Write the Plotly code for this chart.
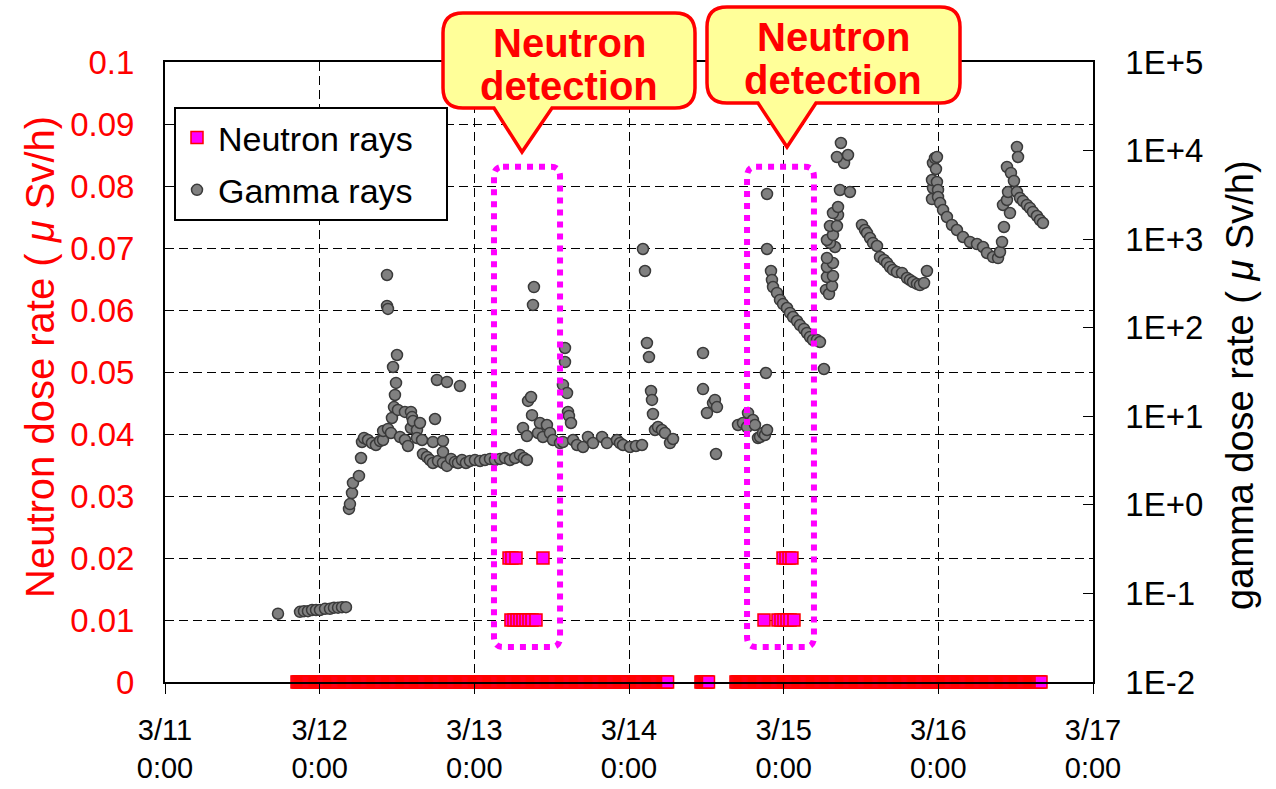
import pandas as pd
import plotly.graph_objects as go

# ---------------- data ----------------
x_tick_dates = ["2011-03-11", "2011-03-12", "2011-03-13", "2011-03-14",
                "2011-03-15", "2011-03-16", "2011-03-17"]
x_tick_text = ["3/11<br>0:00", "3/12<br>0:00", "3/13<br>0:00", "3/14<br>0:00",
               "3/15<br>0:00", "3/16<br>0:00", "3/17<br>0:00"]

gamma_tick_vals = [1e-2, 1e-1, 1e0, 1e1, 1e2, 1e3, 1e4, 1e5]
gamma_tick_text = ["1E-2", "1E-1", "1E+0", "1E+1", "1E+2", "1E+3", "1E+4", "1E+5"]

# neutron monitor: periods where 0 was recorded (sampling every 10 min)
neutron_zero_periods = [("2011-03-11 20:29", "2011-03-14 06:03"),
                        ("2011-03-14 11:10", "2011-03-14 12:20"),
                        ("2011-03-14 16:36", "2011-03-16 16:05")]
neutron_sample_interval = "10min"

# neutron detections (uSv/h)
neutron_detect_time = [
    "03-13 05:23", "03-13 05:50", "03-13 06:28", "03-13 10:39",
    "03-13 05:41", "03-13 06:09", "03-13 06:37", "03-13 07:05", "03-13 07:33",
    "03-13 08:01", "03-13 08:29", "03-13 08:57", "03-13 09:34",
    "03-14 23:54", "03-15 00:22", "03-15 00:50", "03-15 01:17",
    "03-14 20:57", "03-14 23:07", "03-14 23:35", "03-15 00:03", "03-15 00:31",
    "03-15 00:59", "03-15 01:36"]
neutron_detect_dose = [
    0.02, 0.02, 0.02, 0.02,
    0.01, 0.01, 0.01, 0.01, 0.01,
    0.01, 0.01, 0.01, 0.01,
    0.02, 0.02, 0.02, 0.02,
    0.01, 0.01, 0.01, 0.01, 0.01,
    0.01, 0.01]

# gamma dose rate (uSv/h)
gamma_time = [
    # 3/11 evening - 3/12 early
    "03-11 17:32", "03-11 20:57", "03-11 21:34", "03-11 22:11", "03-11 22:49",
    "03-11 23:26", "03-12 00:03", "03-12 00:50", "03-12 01:36", "03-12 02:13",
    "03-12 02:51", "03-12 03:28", "03-12 04:05",
    # 3/12
    "03-12 04:33", "03-12 04:42", "03-12 05:01", "03-12 05:10", "03-12 06:06",
    "03-12 06:25", "03-12 06:34", "03-12 06:53", "03-12 07:30", "03-12 08:07",
    "03-12 08:44", "03-12 09:22", "03-12 09:50", "03-12 09:51", "03-12 10:27",
    "03-12 10:27", "03-12 10:36", "03-12 10:36", "03-12 11:04", "03-12 11:13",
    "03-12 11:23", "03-12 11:32", "03-12 11:41", "03-12 11:51", "03-12 12:00",
    "03-12 12:09", "03-12 12:28", "03-12 13:14", "03-12 13:14", "03-12 13:42",
    "03-12 14:10", "03-12 14:10", "03-12 14:20", "03-12 14:29", "03-12 15:06",
    "03-12 15:06", "03-12 15:34", "03-12 15:53", "03-12 16:02", "03-12 16:39",
    "03-12 17:07", "03-12 17:35", "03-12 17:35", "03-12 17:54", "03-12 18:12",
    "03-12 18:22", "03-12 19:08", "03-12 19:08", "03-12 19:08", "03-12 19:45",
    "03-12 19:45", "03-12 20:23", "03-12 21:00", "03-12 21:28", "03-12 21:46",
    "03-12 22:05", "03-12 22:42", "03-12 23:19",
    # 3/13
    "03-13 00:06", "03-13 00:53", "03-13 01:39", "03-13 02:26", "03-13 03:12",
    "03-13 03:59", "03-13 04:45", "03-13 05:32", "03-13 06:19", "03-13 07:05",
    "03-13 07:42", "03-13 08:10", "03-13 07:33", "03-13 08:10", "03-13 08:20",
    "03-13 08:48", "03-13 08:57", "03-13 09:06", "03-13 09:15", "03-13 09:53",
    "03-13 10:11", "03-13 10:39", "03-13 11:16", "03-13 11:44", "03-13 12:12",
    "03-13 13:18", "03-13 13:45", "03-13 13:45", "03-13 14:04", "03-13 14:04",
    "03-13 14:23", "03-13 14:32", "03-13 14:41", "03-13 15:00", "03-13 15:19",
    "03-13 15:56", "03-13 16:52", "03-13 17:38", "03-13 18:25", "03-13 19:49",
    "03-13 20:35", "03-13 22:08", "03-13 22:36", "03-13 23:04",
    # 3/14
    "03-14 00:09", "03-14 01:05", "03-14 02:01", "03-14 02:10", "03-14 02:29",
    "03-14 02:47", "03-14 03:06", "03-14 03:25", "03-14 03:34", "03-14 03:43",
    "03-14 04:02", "03-14 04:30", "03-14 05:07", "03-14 05:35", "03-14 06:22",
    "03-14 06:50",
    "03-14 11:29", "03-14 11:29", "03-14 12:06", "03-14 13:02", "03-14 13:20",
    "03-14 13:39", "03-14 13:30",
    "03-14 16:55", "03-14 17:41", "03-14 18:19", "03-14 18:28", "03-14 19:14",
    "03-14 19:33", "03-14 20:01", "03-14 20:20", "03-14 20:47", "03-14 21:06",
    "03-14 21:25", "03-14 21:15", "03-14 21:25", "03-14 21:25", "03-14 22:02",
    "03-14 22:11", "03-14 22:21", "03-14 22:58", "03-14 23:26", "03-14 23:54",
    # 3/15
    "03-15 00:31", "03-15 00:59", "03-15 01:27", "03-15 02:04", "03-15 02:32",
    "03-15 03:09", "03-15 03:37", "03-15 04:05", "03-15 04:33", "03-15 05:10",
    "03-15 05:38", "03-15 06:15",
    "03-15 06:34", "03-15 07:02", "03-15 07:30", "03-15 06:43", "03-15 07:39",
    "03-15 06:43", "03-15 07:39", "03-15 06:43", "03-15 07:58", "03-15 07:11",
    "03-15 06:43", "03-15 07:39", "03-15 07:11", "03-15 08:16", "03-15 08:26",
    "03-15 07:39", "03-15 08:26", "03-15 08:44", "03-15 10:17", "03-15 09:22",
    "03-15 08:16", "03-15 09:59", "03-15 08:53",
    "03-15 12:09", "03-15 12:37", "03-15 12:56", "03-15 13:24", "03-15 13:52",
    "03-15 14:29", "03-15 14:57", "03-15 15:34", "03-15 16:02", "03-15 16:30",
    "03-15 16:58", "03-15 17:35", "03-15 18:22", "03-15 19:08", "03-15 19:36",
    "03-15 20:04", "03-15 20:41", "03-15 21:09", "03-15 21:47", "03-15 22:14",
    "03-15 23:01", "03-15 23:10", "03-15 23:01", "03-15 23:10", "03-15 23:29",
    "03-15 23:47", "03-15 23:38", "03-15 23:47", "03-15 23:57", "03-15 23:57",
    # 3/16
    "03-16 00:16", "03-16 00:44", "03-16 01:20", "03-16 02:07", "03-16 02:53",
    "03-16 03:50", "03-16 04:55", "03-16 06:00", "03-16 06:56", "03-16 07:33",
    "03-16 08:29", "03-16 09:16",
    "03-16 09:34", "03-16 09:53", "03-16 10:11", "03-16 10:02", "03-16 10:39",
    "03-16 11:07", "03-16 10:49", "03-16 10:39", "03-16 11:16", "03-16 11:44",
    "03-16 12:12", "03-16 12:22",
    "03-16 12:12", "03-16 12:40", "03-16 13:08", "03-16 13:45", "03-16 14:13",
    "03-16 14:41", "03-16 15:18", "03-16 15:46", "03-16 16:14"]
gamma_dose = [
    0.059, 0.062, 0.063, 0.063, 0.065,
    0.065, 0.065, 0.067, 0.067, 0.069,
    0.069, 0.070, 0.070,
    0.90, 1.02, 1.36, 1.77, 2.12,
    3.38, 5.13, 5.69, 5.40, 4.99,
    4.74, 5.26, 5.40, 6.82, 176,
    394, 163, 7.19, 6.48, 9.57,
    36.0, 12.7, 17.4, 23.8, 49.2,
    11.8, 5.84, 11.2, 5.40, 4.62,
    11.2, 7.38, 9.8, 8.85, 7.0,
    5.69, 8.4, 5.40, 3.75, 3.47,
    3.21, 2.97, 5.13, 9.32, 25.7,
    3.13, 2.97, 5.26, 3.95, 2.75,
    24.4, 3.30, 3.05, 2.97, 22.0,
    3.21, 2.97, 3.13,
    3.21, 3.13, 3.21, 3.30, 3.21,
    3.30, 3.38, 3.21, 3.38, 3.66,
    3.38, 3.21, 7.38, 5.99, 14.9,
    16.5, 10.3, 181, 288, 6.48,
    8.4, 5.84, 7.97, 6.48, 5.40,
    4.99, 5.13, 22.6, 59.0, 41.0,
    18.3, 11.2, 10.1, 8.4, 5.40,
    4.74, 4.50, 5.84, 4.99, 5.84,
    4.99, 5.40, 4.99, 4.74,
    4.50, 4.62, 4.74, 774, 437,
    67.2, 46.7, 19.3, 15.3, 10.6,
    7.0, 7.57, 7.0, 6.48, 4.99,
    5.54,
    51.8, 20.3, 10.9, 14.1, 15.3,
    12.7, 3.75,
    7.97, 8.4, 7.57, 10.9, 9.08,
    7.97, 5.69, 5.84, 6.48, 6.15,
    7.0, 30.8, 774, 3236, 437,
    346, 288, 247, 206, 185,
    167, 147, 132, 119, 107,
    96.8, 87.2, 78.6, 72.7, 72.7,
    69.0, 34.2,
    267, 240, 296, 374, 384,
    485, 538, 612, 815, 906,
    978, 1114, 1407, 1407, 1874,
    1972, 2306, 3589, 3406, 7244,
    8460, 8913, 12180,
    1445, 1268, 1173, 1030, 906,
    837, 628, 582, 538, 485,
    449, 426, 415, 364, 346,
    328, 312, 303, 320, 437,
    2838, 3781, 4652, 7244, 8240,
    8460, 6195, 4417, 3589, 2992,
    2558, 2133, 1778, 1445, 1268,
    1057, 929, 881, 815, 698,
    628, 612,
    716, 929, 1371, 2432, 2767,
    1972, 3406, 6531, 5585, 4536,
    10970, 8460,
    3406, 2917, 2698, 2432, 2249,
    2027, 1825, 1645, 1521]

# highlighted detection windows (time span, neutron-axis span)
detect_windows = [("2011-03-13 03:03", "2011-03-13 13:18"),
                  ("2011-03-14 18:19", "2011-03-15 04:42")]
detect_window_y = (0.00565, 0.0831)
callout_label = "Neutron<br>detection"

# ---------------- build ----------------
YEAR = "2011-"
g_t = pd.to_datetime([YEAR + t for t in gamma_time])
nd_t = pd.to_datetime([YEAR + t for t in neutron_detect_time])

zero_times = []
for a, b in neutron_zero_periods:
    zero_times.extend(pd.date_range(a, b, freq=neutron_sample_interval))
n_t = list(zero_times) + list(nd_t)
n_v = [0.0] * len(zero_times) + list(neutron_detect_dose)

FONT = "Arial, 'Liberation Sans', sans-serif"
RED = "#FF0000"
MAG = "#FF00FF"
PAD = "\u00a0\u00a0\u00a0"

fig = go.Figure()
fig.add_trace(go.Scatter(
    x=n_t, y=n_v, mode="markers", name="Neutron rays" + PAD,
    marker=dict(symbol="square", size=12, color=MAG,
                line=dict(color=RED, width=1.5)),
    yaxis="y", legendgroup="n", cliponaxis=False))
fig.add_trace(go.Scatter(
    x=g_t, y=gamma_dose, mode="markers", name="Gamma rays" + PAD,
    marker=dict(symbol="circle", size=11, color="#808080",
                line=dict(color="#3a3a3a", width=1.5)),
    yaxis="y2", legendgroup="g", cliponaxis=False))

W, H = 1276, 789
ML, MR, MT, MB = 165, 183, 62, 107
PW, PH = W - ML - MR, H - MT - MB


def px(x):
    return (x - ML) / PW


def py(y):
    return (H - MB - y) / PH


shapes = []
# dotted rounded windows in data coordinates (ms on date axis)
for a, b in detect_windows:
    x0 = pd.Timestamp(a).value / 1e6
    x1 = pd.Timestamp(b).value / 1e6
    y0, y1 = detect_window_y
    rx = 1.4 * 3600 * 1000
    ry = 0.0016
    p = (f"M {x0+rx},{y1} L {x1-rx},{y1} Q {x1},{y1} {x1},{y1-ry} "
         f"L {x1},{y0+ry} Q {x1},{y0} {x1-rx},{y0} L {x0+rx},{y0} "
         f"Q {x0},{y0} {x0},{y0+ry} L {x0},{y1-ry} Q {x0},{y1} {x0+rx},{y1} Z")
    shapes.append(dict(type="path", xref="x", yref="y", path=p,
                       line=dict(color=MAG, width=6, dash="dot")))

# callout balloons (pixel geometry -> paper)
callouts = [dict(L=443, R=695, T=13, B=108, tip=(522, 152), base=(494, 552), cx=569, ly=(43, 86)),
            dict(L=707, R=960, T=7, B=103, tip=(787, 147), base=(758, 816), cx=833, ly=(37, 80))]
annotations = []
for c in callouts:
    L, R, T, B = px(c["L"]), px(c["R"]), py(c["T"]), py(c["B"])
    rx, ry = 20 / PW, 20 / PH
    bl, br = px(c["base"][0]), px(c["base"][1])
    tx, ty = px(c["tip"][0]), py(c["tip"][1])
    p = (f"M {L+rx},{T} L {R-rx},{T} Q {R},{T} {R},{T-ry} L {R},{B+ry} "
         f"Q {R},{B} {R-rx},{B} L {br},{B} L {tx},{ty} L {bl},{B} "
         f"L {L+rx},{B} Q {L},{B} {L},{B+ry} L {L},{T-ry} Q {L},{T} {L+rx},{T} Z")
    shapes.append(dict(type="path", xref="paper", yref="paper", path=p,
                       fillcolor="#FFFF99", line=dict(color=RED, width=3.5)))
    for txt, yy in zip(callout_label.split("<br>"), c["ly"]):
        annotations.append(dict(text=f"<b>{txt}</b>", x=px(c["cx"]), y=py(yy),
                                xref="paper", yref="paper", showarrow=False,
                                xanchor="center", yanchor="middle",
                                font=dict(family=FONT, size=40, color=RED)))

# axis titles
annotations.append(dict(text="Neutron dose rate ( <i>μ</i> Sv/h)", x=px(40), y=py(357),
                        xref="paper", yref="paper", showarrow=False, textangle=-90,
                        xanchor="center", yanchor="middle",
                        font=dict(family=FONT, size=40, color=RED)))
annotations.append(dict(text="gamma dose rate ( <i>μ</i> Sv/h)", x=px(1240), y=py(385),
                        xref="paper", yref="paper", showarrow=False, textangle=-90,
                        xanchor="center", yanchor="middle",
                        font=dict(family=FONT, size=38, color="black")))

GRID = dict(showgrid=True, gridcolor="black", gridwidth=1, griddash="9px,5px")

fig.update_layout(
    width=W, height=H,
    margin=dict(l=ML, r=MR, t=MT, b=MB, autoexpand=False),
    paper_bgcolor="white", plot_bgcolor="white",
    font=dict(family=FONT, color="black"),
    showlegend=True,
    legend=dict(x=px(174), y=py(107), xanchor="left", yanchor="top",
                bgcolor="white", bordercolor="black", borderwidth=2,
                font=dict(family=FONT, size=34, color="black"),
                tracegroupgap=5, itemwidth=32),
    xaxis=dict(type="date", range=["2011-03-11", "2011-03-17"],
               tickvals=pd.to_datetime(x_tick_dates), ticktext=x_tick_text,
               ticks="outside", ticklen=10, tickcolor="black", tickwidth=1,
               showline=True, linecolor="black", linewidth=2, mirror=True,
               tickfont=dict(family=FONT, size=29, color="black"),
               ticklabelstandoff=11, automargin=False, **GRID),
    yaxis=dict(range=[0, 0.1], tick0=0, dtick=0.01,
               ticks="inside", ticklen=5, tickcolor="black",
               showline=True, linecolor="black", linewidth=2,
               zeroline=False, tickfont=dict(family=FONT, size=33, color=RED),
               ticklabelstandoff=22, automargin=False, **GRID),
    yaxis2=dict(type="log", range=[-2, 5], overlaying="y", side="right",
                tickvals=gamma_tick_vals, ticktext=gamma_tick_text,
                ticks="inside", ticklen=10, tickcolor="black",
                showline=True, linecolor="black", linewidth=1.5,
                showgrid=False, zeroline=False,
                tickfont=dict(family=FONT, size=33, color="black"),
                ticklabelstandoff=24, automargin=False),
    shapes=shapes,
    annotations=annotations,
)

fig.write_html("out.html", config={"displayModeBar": False},
               post_script="document.body.style.margin='0px';")
